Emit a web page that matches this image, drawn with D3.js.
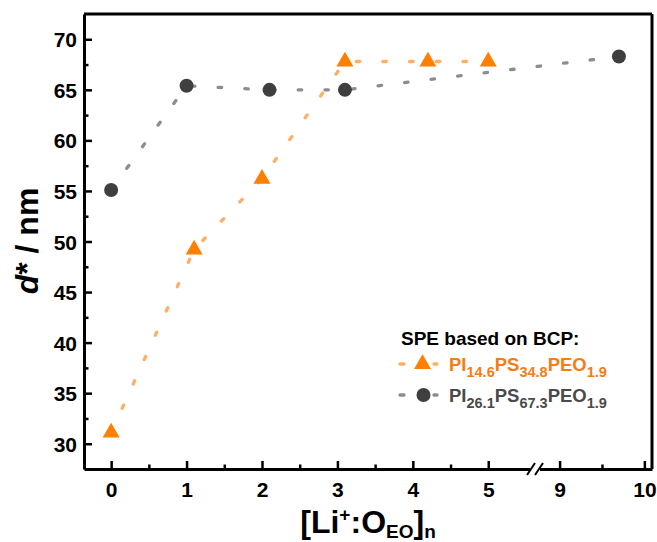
<!DOCTYPE html>
<html><head><meta charset="utf-8">
<script src="https://cdn.jsdelivr.net/npm/d3@7"></script>
<style>body{margin:0;background:#fff}svg{display:block}</style>
</head><body>
<svg id="c" width="657" height="542"></svg>
<script>
// ---- data ----
const xOrange = [0, 1.1, 2, 3.1, 4.2, 5];
const yOrange = [31.1, 49.2, 56.2, 67.8, 67.8, 67.8];
const xGray = [0, 1, 2.1, 3.1, 9.7];
const yGray = [55.1, 65.4, 65.0, 65.0, 68.3];
const xTicks = [0, 1, 2, 3, 4, 5, 9, 10];
const xMinor = [0.5, 1.5, 2.5, 3.5, 4.5, 9.5];
const yTicks = [30, 35, 40, 45, 50, 55, 60, 65, 70];
const yMinor = [32.5, 37.5, 42.5, 47.5, 52.5, 57.5, 62.5, 67.5];
const legendTitle = "SPE based on BCP:";
const seriesNames = [
  [["PI",0],["14.6",1],["PS",0],["34.8",1],["PEO",0],["1.9",1]],
  [["PI",0],["26.1",1],["PS",0],["67.3",1],["PEO",0],["1.9",1]]
];

const svg = d3.select("#c");
const L = 84, R = 652, T = 14, B = 469;
const FONT = "'Liberation Sans', Arial, sans-serif";
// broken axis: piecewise linear scale
const x = d3.scaleLinear().domain([-0.36, 5.62, 8.71, 10.09]).range([L, 535, 535, R]);
const y = d3.scaleLinear().domain([27.5, 72.5]).range([B, T]);

const cOrange = "#ff7f00", cOrangeLine = "#ffae66";
const cGray = "#3f3f3f", cGrayLine = "#8d8d8d";

// frame top/right
svg.append("line").attr("x1", L).attr("x2", R).attr("y1", T).attr("y2", T).attr("stroke", "#000").attr("stroke-width", 3);
svg.append("line").attr("x1", R).attr("x2", R).attr("y1", T).attr("y2", B).attr("stroke", "#000").attr("stroke-width", 3);

// axes
function styleAxis(g) {
  g.selectAll(".domain").attr("stroke", "#000").attr("stroke-width", 3);
  g.selectAll(".tick line").attr("stroke", "#000").attr("stroke-width", 2.5);
  g.selectAll("text").attr("font-family", FONT).attr("font-weight", "bold").attr("font-size", 21).attr("fill", "#000");
}
const gx = svg.append("g").attr("transform", `translate(0,${B})`)
  .call(d3.axisBottom(x).tickValues(xTicks).tickSize(-8).tickSizeOuter(0).tickPadding(13).tickFormat(d3.format("d")));
styleAxis(gx);
const gxm = svg.append("g").attr("transform", `translate(0,${B})`)
  .call(d3.axisBottom(x).tickValues(xMinor).tickSize(-4.5).tickFormat(""));
styleAxis(gxm); gxm.select(".domain").remove();

const gy = svg.append("g").attr("transform", `translate(${L},0)`)
  .call(d3.axisLeft(y).tickValues(yTicks).tickSize(-8).tickSizeOuter(0).tickPadding(7).tickFormat(d3.format("d")));
styleAxis(gy);
gy.selectAll("text").attr("dy", "0.36em");
const gym = svg.append("g").attr("transform", `translate(${L},0)`)
  .call(d3.axisLeft(y).tickValues(yMinor).tickSize(-4.5).tickFormat(""));
styleAxis(gym); gym.select(".domain").remove();

// axis break marks
const bx = x(5.62);
svg.append("rect").attr("x", bx - 5).attr("y", B - 3).attr("width", 10).attr("height", 6).attr("fill", "#fff");
[-4, 4].forEach(o => {
  svg.append("line").attr("x1", bx + o - 4).attr("y1", B + 6).attr("x2", bx + o + 4).attr("y2", B - 6)
    .attr("stroke", "#000").attr("stroke-width", 2);
});

// lines
const line = d3.line().x(d => x(d[0])).y(d => y(d[1]));
const dOrange = xOrange.map((v, i) => [v, yOrange[i]]);
const dGray = xGray.map((v, i) => [v, yGray[i]]);
function dashed(data, col) {
  svg.append("path").attr("d", line(data)).attr("fill", "none").attr("stroke", col)
    .attr("stroke-width", 3.3).attr("stroke-linecap", "round").attr("stroke-dasharray", "3.5 23.2");
}
dashed(dGray, cGrayLine);
dashed(dOrange, cOrangeLine);

// markers
const tri = d3.symbol().type(d3.symbolTriangle).size(125);
svg.selectAll(".gc").data(dGray).join("circle").attr("cx", d => x(d[0])).attr("cy", d => y(d[1])).attr("r", 7).attr("fill", cGray);
svg.selectAll(".ot").data(dOrange).join("path").attr("d", tri).attr("transform", d => `translate(${x(d[0])},${y(d[1])})`).attr("fill", cOrange);

// axis titles
const xt = svg.append("text").attr("x", (L + R) / 2).attr("y", 533).attr("text-anchor", "middle")
  .attr("font-family", FONT).attr("font-weight", "bold").attr("font-size", 32).attr("fill", "#000");
xt.append("tspan").text("[Li");
xt.append("tspan").text("+").attr("font-size", 19).attr("dy", -12);
xt.append("tspan").text(":O").attr("dy", 12);
xt.append("tspan").text("EO").attr("font-size", 19).attr("dy", 5);
xt.append("tspan").text("]").attr("dy", -5);
xt.append("tspan").text("n").attr("font-size", 19).attr("dy", 5);

const yt = svg.append("text").attr("transform", "translate(38,241) rotate(-90)").attr("text-anchor", "middle")
  .attr("font-family", FONT).attr("font-weight", "bold").attr("font-size", 32).attr("fill", "#000");
yt.append("tspan").text("d").attr("font-style", "italic");
yt.append("tspan").text("* / nm");

// legend
svg.append("text").attr("x", 401).attr("y", 345).text(legendTitle)
  .attr("font-family", FONT).attr("font-weight", "bold").attr("font-size", 19).attr("fill", "#000");
const legCols = [[cOrange, cOrangeLine, "#f47d14"], [cGray, cGrayLine, "#4a4a4a"]];
const legY = [364, 395];
seriesNames.forEach((parts, i) => {
  const ly = legY[i];
  svg.append("line").attr("x1", 400).attr("x2", 437).attr("y1", ly).attr("y2", ly)
    .attr("stroke", legCols[i][1]).attr("stroke-width", 3.3).attr("stroke-linecap", "round").attr("stroke-dasharray", "4 30");
  if (i === 0) svg.append("path").attr("d", tri).attr("transform", `translate(422.5,${ly})`).attr("fill", legCols[i][0]);
  else svg.append("circle").attr("cx", 423.5).attr("cy", ly).attr("r", 7).attr("fill", legCols[i][0]);
  const t = svg.append("text").attr("x", 449).attr("y", ly + 7)
    .attr("font-family", FONT).attr("font-weight", "bold").attr("font-size", 18.5).attr("fill", legCols[i][2]);
  let prev = 0;
  parts.forEach(([s, sub]) => {
    const ts = t.append("tspan").text(s).attr("dy", (sub - prev) * 6);
    if (sub) ts.attr("font-size", 14.5);
    prev = sub;
  });
});
</script>
</body></html>
